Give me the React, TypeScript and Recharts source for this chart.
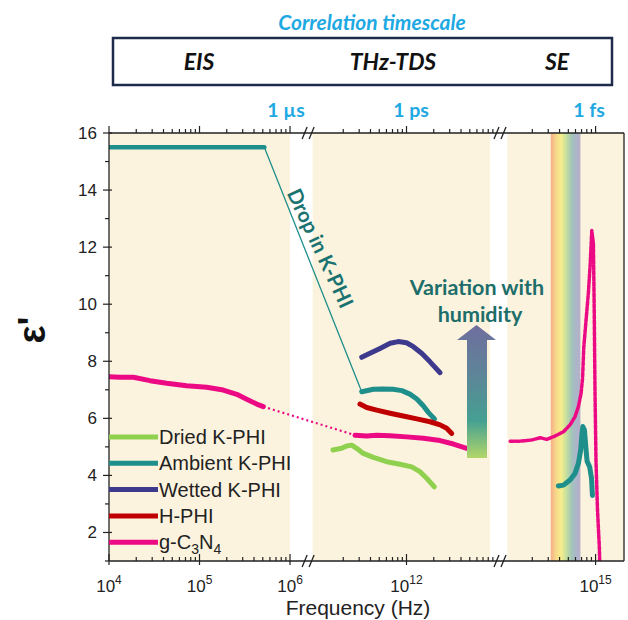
import React from "react";
import { LineChart, Line, XAxis, YAxis, ReferenceArea, ReferenceDot } from "recharts";

// broken log axis: each panel maps log10(f) onto a shared linear coordinate u
const panelStarts = [
  { minLog: 4, u0: 0 },
  { minLog: 11, u0: 2.287 },
  { minLog: 14, u0: 4.376 },
];
const U_MAX = 5.69;

const toU = (f: number) => {
  const lg = Math.log10(f);
  const p = lg < 8 ? panelStarts[0] : lg < 13.5 ? panelStarts[1] : panelStarts[2];
  return p.u0 + (lg - p.minLog);
};

// EIS
const ambientEisFreq = [1e4, 1e5, 5.2e5];
const ambientEisEps = [15.5, 15.5, 15.5];
const gcnEisFreq = [1e4, 1.32e4, 1.86e4, 2.84e4, 4.34e4, 7.2e4, 1.2e5, 1.83e5, 2.58e5, 3.32e5, 4.29e5, 5.07e5];
const gcnEisEps = [7.46, 7.44, 7.44, 7.32, 7.23, 7.14, 7.09, 6.99, 6.84, 6.67, 6.5, 6.41];

// THz-TDS
const driedFreq = [1.54e11, 1.92e11, 2.18e11, 2.48e11, 2.81e11, 3.33e11, 4.3e11, 6.04e11, 8.47e11, 1.14e12, 1.41e12, 1.67e12, 2.03e12];
const driedEps = [4.89, 4.95, 5.03, 5.06, 4.95, 4.77, 4.63, 4.48, 4.39, 4.3, 4.13, 3.9, 3.6];
const ambientFreq = [3.2e11, 4.3e11, 5.5e11, 7.1e11, 8.9e11, 1.09e12, 1.3e12, 1.54e12, 1.75e12, 2.04e12];
const ambientEps = [6.93, 7.02, 7.03, 7.02, 6.97, 6.85, 6.68, 6.43, 6.2, 5.98];
const wettedFreq = [3.2e11, 3.95e11, 5.1e11, 6.6e11, 8.1e11, 1.0e12, 1.19e12, 1.47e12, 1.82e12, 2.35e12];
const wettedEps = [8.14, 8.28, 8.45, 8.63, 8.69, 8.65, 8.51, 8.28, 7.98, 7.6];
const hphiFreq = [3.06e11, 3.63e11, 4.69e11, 6.58e11, 9.2e11, 1.3e12, 1.82e12, 2.35e12, 2.78e12, 3.16e12];
const hphiEps = [6.5, 6.38, 6.29, 6.18, 6.08, 5.98, 5.88, 5.77, 5.65, 5.47];
const gcnThzFreq = [2.7e11, 3.63e11, 4.69e11, 6.58e11, 1.0e12, 1.54e12, 2.35e12, 3.3e12, 4.63e12];
const gcnThzEps = [5.41, 5.38, 5.41, 5.39, 5.35, 5.3, 5.22, 5.1, 4.95];

// SE
const gcnSeFreq = [1.14e14, 1.47e14, 1.97e14, 2.44e14, 2.89e14, 3.56e14, 4.42e14, 5.22e14, 5.93e14, 6.46e14, 6.92e14, 7.18e14, 7.41e14, 7.85e14, 8.32e14, 8.69e14, 9.08e14, 9.46e14, 9.66e14, 9.86e14, 1.01e15, 1.05e15, 1.1e15, 1.11e15];
const gcnSeEps = [5.2, 5.2, 5.24, 5.32, 5.26, 5.38, 5.53, 5.77, 6.06, 6.41, 6.88, 7.4, 8.5, 9.45, 10.38, 11.31, 12.58, 12.13, 9.8, 6.88, 4.54, 2.79, 1.5, 1.03];
const ambientSeFreq = [3.88e14, 4.42e14, 5.22e14, 5.93e14, 6.46e14, 6.85e14, 7.03e14, 7.23e14, 7.53e14, 7.85e14, 8.05e14, 8.6e14, 9.02e14, 9.23e14];
const ambientSeEps = [3.63, 3.66, 3.84, 4.07, 4.42, 4.89, 5.36, 5.71, 5.59, 4.9, 4.5, 4.3, 3.9, 3.3];

const seriesNames = ["Dried K-PHI", "Ambient K-PHI", "Wetted K-PHI", "H-PHI", "g-C3N4"];
const seriesColors = ["#8fd14f", "#1f8f8c", "#3d3a8e", "#c00000", "#ec0a84"];

const majorDecades = [4, 5, 6, 12, 15];
const labelledDecades = [4, 5, 6, 12, 15];
const minorDecades = [4, 5, 11, 12, 14];
const minorMantissas = [2, 3, 4, 5, 6, 7, 8, 9];
const yTicks = [1, 2, 3, 4, 5, 6, 7, 8, 9, 10, 11, 12, 13, 14, 15, 16];

const majorTicks = majorDecades.map((d) => ({ u: toU(10 ** d), d }));
const minorTicks = minorDecades.flatMap((d) => minorMantissas.map((m) => toU(m * 10 ** d)));
const xTicks = [...majorTicks.map((t) => t.u), ...minorTicks].sort((a, b) => a - b);

const breaks = [2.2, 4.32];
const shadeSpans = [
  [0, 2.0],
  [2.25, 4.21],
  [4.4, U_MAX],
];
const visibleBand = [3.2e14, 6.8e14];

const pts = (f: number[], e: number[]) => f.map((x, i) => ({ u: toU(x), eps: e[i] }));

const AXIS = "#222";
const CREAM = "#fcf3de";
const SANS = "'Liberation Sans', Arial, sans-serif";
const CAL = "Lato, 'Open Sans', sans-serif";

const XTick = (props: any) => {
  const { x, y, payload, top } = props;
  const major = majorTicks.find((t) => Math.abs(t.u - payload.value) < 1e-6);
  const label = !top && major && labelledDecades.includes(major.d);
  return (
    <g>
      <line x1={x} x2={x} y1={y - (major ? 7 : 4)} y2={y + (major && !top ? 4 : 0)} stroke={AXIS} strokeWidth={1.2} />
      {label && (
        <text x={x} y={y + 31} textAnchor="middle" fontFamily={SANS} fontSize={17} fill="#222">
          10
          <tspan dy={-8} fontSize={12}>
            {major!.d}
          </tspan>
        </text>
      )}
    </g>
  );
};

const YTickLeft = (props: any) => {
  const { x, y, payload } = props;
  const even = payload.value % 2 === 0;
  return (
    <g>
      <line x1={x - (even ? 6 : 4)} x2={x + (even ? 3 : 0)} y1={y} y2={y} stroke={AXIS} strokeWidth={1.2} />
      {even && (
        <text x={x - 12} y={y + 6} textAnchor="end" fontFamily={SANS} fontSize={17} fill="#222">
          {payload.value}
        </text>
      )}
    </g>
  );
};

const YTickRight = (props: any) => {
  const { x, y } = props;
  return <line x1={x - 6} x2={x} y1={y} y2={y} stroke={AXIS} strokeWidth={1.2} />;
};

const BreakMark = (props: any) => {
  const { cx, cy } = props;
  return (
    <g stroke={AXIS} strokeWidth={1.3}>
      <line x1={cx - 6} y1={cy + 6} x2={cx - 1} y2={cy - 6} />
      <line x1={cx + 1} y1={cy + 6} x2={cx + 6} y2={cy - 6} />
    </g>
  );
};

const lineProps = {
  dataKey: "eps",
  type: "linear" as const,
  dot: false,
  isAnimationActive: false,
  strokeLinecap: "round" as const,
  strokeLinejoin: "round" as const,
};

export default function App() {
  const legendY = 437;
  return (
    <div style={{ position: "absolute", left: 0, top: 0, width: 628, height: 620, background: "#fff" }}>
      <LineChart width={628} height={620} margin={{ top: 132, right: 3, bottom: 29, left: 60 }}>
        <defs>
          <linearGradient id="rainbow" x1="0" y1="0" x2="1" y2="0">
            <stop offset="0%" stopColor="#f5ad86" />
            <stop offset="18%" stopColor="#f8d98a" />
            <stop offset="35%" stopColor="#f7ee8c" />
            <stop offset="52%" stopColor="#c6e09d" />
            <stop offset="70%" stopColor="#a3c6b8" />
            <stop offset="85%" stopColor="#abb6c9" />
            <stop offset="100%" stopColor="#b6aec8" />
          </linearGradient>
        </defs>
        {shadeSpans.map(([a, b], i) => (
          <ReferenceArea key={i} x1={a} x2={b} fill={CREAM} fillOpacity={1} stroke="none" ifOverflow="visible" />
        ))}
        <ReferenceArea x1={toU(visibleBand[0])} x2={toU(visibleBand[1])} fill="url(#rainbow)" fillOpacity={1} stroke="none" />
        <XAxis
          dataKey="u"
          type="number"
          domain={[0, U_MAX]}
          ticks={xTicks}
          interval={0}
          height={30}
          tickSize={0}
          tickMargin={0}
          tick={<XTick />}
          stroke={AXIS}
          strokeWidth={1.3}
          allowDataOverflow
        />
        <XAxis
          xAxisId="top"
          orientation="top"
          dataKey="u"
          type="number"
          domain={[0, U_MAX]}
          ticks={xTicks}
          interval={0}
          height={1}
          tickSize={0}
          tickMargin={0}
          tick={<XTick top />}
          stroke={AXIS}
          strokeWidth={1.3}
          allowDataOverflow
        />
        <YAxis
          type="number"
          domain={[1, 16]}
          ticks={yTicks}
          interval={0}
          width={49}
          tickSize={0}
          tickMargin={0}
          tick={<YTickLeft />}
          stroke={AXIS}
          strokeWidth={1.3}
          allowDataOverflow
        />
        <YAxis
          yAxisId="right"
          orientation="right"
          type="number"
          domain={[1, 16]}
          ticks={yTicks}
          interval={0}
          width={1}
          tickSize={0}
          tickMargin={0}
          tick={<YTickRight />}
          stroke={AXIS}
          strokeWidth={1.3}
        />
        {/* connectors */}
        <Line
          {...lineProps}
          data={pts([ambientEisFreq[2], ambientFreq[0]], [ambientEisEps[2], ambientEps[0]])}
          stroke={seriesColors[1]}
          strokeWidth={1.3}
        />
        <Line
          {...lineProps}
          data={pts([gcnEisFreq[gcnEisFreq.length - 1], gcnThzFreq[0]], [gcnEisEps[gcnEisEps.length - 1], gcnThzEps[0]])}
          stroke={seriesColors[4]}
          strokeWidth={2.2}
          strokeDasharray="2 3"
          strokeLinecap="butt"
        />
        {/* data */}
        <Line {...lineProps} data={pts(ambientEisFreq, ambientEisEps)} stroke={seriesColors[1]} strokeWidth={4.5} />
        <Line {...lineProps} data={pts(gcnEisFreq, gcnEisEps)} stroke={seriesColors[4]} strokeWidth={5} />
        <Line {...lineProps} data={pts(wettedFreq, wettedEps)} stroke={seriesColors[2]} strokeWidth={5} />
        <Line {...lineProps} data={pts(ambientFreq, ambientEps)} stroke={seriesColors[1]} strokeWidth={5} />
        <Line {...lineProps} data={pts(hphiFreq, hphiEps)} stroke={seriesColors[3]} strokeWidth={5} />
        <Line {...lineProps} data={pts(gcnThzFreq, gcnThzEps)} stroke={seriesColors[4]} strokeWidth={5} />
        <Line {...lineProps} data={pts(driedFreq, driedEps)} stroke={seriesColors[0]} strokeWidth={5} />
        <Line {...lineProps} data={pts(gcnSeFreq, gcnSeEps)} stroke={seriesColors[4]} strokeWidth={3.5} strokeDasharray="4 1.5" />
        <Line {...lineProps} data={pts(ambientSeFreq, ambientSeEps)} stroke={seriesColors[1]} strokeWidth={5} />
        {breaks.map((b) => (
          <ReferenceDot key={"t" + b} x={b} y={16} r={0} shape={<BreakMark />} ifOverflow="visible" />
        ))}
        {breaks.map((b) => (
          <ReferenceDot key={"b" + b} x={b} y={1} r={0} shape={<BreakMark />} ifOverflow="visible" />
        ))}
      </LineChart>

      <svg width={628} height={620} style={{ position: "absolute", left: 0, top: 0, pointerEvents: "none" }}>
        <defs>
          <linearGradient id="humid" x1="0" y1="0" x2="0" y2="1">
            <stop offset="0%" stopColor="#6f6e9e" />
            <stop offset="35%" stopColor="#5f8398" />
            <stop offset="72%" stopColor="#45a092" />
            <stop offset="100%" stopColor="#b2d66a" />
          </linearGradient>
        </defs>

        <text x={372} y={30} textAnchor="middle" fontFamily={CAL} fontStyle="italic" fontWeight={700} fontSize={21} fill="#1ea9e3">
          Correlation timescale
        </text>
        <rect x={113} y={38} width={499} height={47} fill="none" stroke="#1e2b4b" strokeWidth={2.5} />
        {[
          ["EIS", 199],
          ["THz-TDS", 393],
          ["SE", 557],
        ].map(([t, cx]) => (
          <text key={t} x={cx} y={70} textAnchor="middle" fontFamily={CAL} fontStyle="italic" fontWeight={700} fontSize={23} fill="#111">
            {t}
          </text>
        ))}
        {[
          ["1 µs", 286],
          ["1 ps", 411],
          ["1 fs", 589],
        ].map(([t, cx]) => (
          <text key={t} x={cx} y={117} textAnchor="middle" fontFamily={CAL} fontWeight={700} fontSize={19.5} fill="#1ea9e3">
            {t}
          </text>
        ))}

        <text
          transform="translate(45 330) rotate(-90)"
          textAnchor="middle"
          fontFamily={SANS}
          fontWeight={700}
          fontSize={38}
          fill="#111"
        >
          ε'
        </text>
        <text x={358} y={615} textAnchor="middle" fontFamily={SANS} fontSize={21} fill="#222">
          Frequency (Hz)
        </text>

        {/* annotations */}
        <text
          transform="translate(321 248) rotate(65)"
          textAnchor="middle"
          dominantBaseline="central"
          fontFamily={CAL}
          fontWeight={700}
          fontSize={20.5}
          fill="#1a7370"
        >
          Drop in K-PHI
        </text>
        <polygon points="467,458 467,340 457,340 476.5,325 496,340 487,340 487,458" fill="url(#humid)" />
        <text x={477} y={295} textAnchor="middle" fontFamily={CAL} fontWeight={700} fontSize={21.5} fill="#1d6e6b">
          Variation with
        </text>
        <text x={480} y={322} textAnchor="middle" fontFamily={CAL} fontWeight={700} fontSize={21.5} fill="#1d6e6b">
          humidity
        </text>

        {/* legend */}
        {seriesNames.map((n, i) => {
          const y = legendY + i * 26.3;
          return (
            <g key={n}>
              <line x1={109} x2={158} y1={y} y2={y} stroke={seriesColors[i]} strokeWidth={5} />
              <text x={159} y={y + 7} fontFamily={SANS} fontSize={20} fill="#222">
                {n === "g-C3N4" ? (
                  <>
                    g-C
                    <tspan dy={5} fontSize={14}>3</tspan>
                    <tspan dy={-5}>N</tspan>
                    <tspan dy={5} fontSize={14}>4</tspan>
                  </>
                ) : (
                  n
                )}
              </text>
            </g>
          );
        })}
      </svg>
    </div>
  );
}
